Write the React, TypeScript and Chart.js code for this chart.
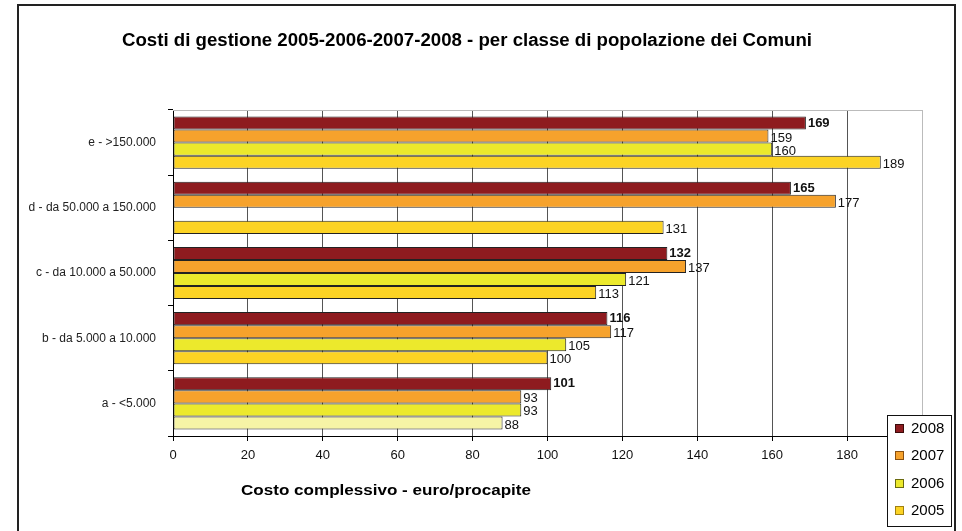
import React, { useEffect, useRef } from "react";
import { Chart, registerables } from "chart.js";

Chart.register(...registerables);

const categories = ["e - >150.000", "d - da 50.000 a 150.000", "c - da 10.000 a 50.000", "b - da 5.000 a 10.000", "a - <5.000"];
const years = ["2008", "2007", "2006", "2005"];
const values2008 = [169, 165, 132, 116, 101];
const values2007 = [159, 177, 137, 117, 93];
const values2006: (number | null)[] = [160, null, 121, 105, 93];
const values2005 = [189, 131, 113, 100, 88];
const xTicks = [0, 20, 40, 60, 80, 100, 120, 140, 160, 180, 200];

const titleText = "Costi di gestione 2005-2006-2007-2008 - per classe di popolazione dei Comuni";
const xTitleText = "Costo complessivo - euro/procapite";

const C2008 = "#8e1b1f";
const C2007 = "#f6a22c";
const C2006 = "#ece92c";
const C2005 = "#fcd324";
const C2005pale = "#f6f4a6";
const seriesColors = [C2008, C2007, C2006, C2005];
const legendBorders = ["#3a0a0a", "#8a5010", "#6a6a10", "#a08010"];

const FONT = '"Liberation Sans", Arial, sans-serif';

export default function App() {
  const ref = useRef<HTMLCanvasElement | null>(null);

  useEffect(() => {
    const canvas = ref.current;
    if (!canvas) return;

    const framePlugin = {
      id: "frame",
      beforeDraw(chart: any) {
        const ctx = chart.ctx;
        ctx.save();
        ctx.fillStyle = "#fff";
        ctx.fillRect(0, 0, chart.width, chart.height);
        ctx.strokeStyle = "#222";
        ctx.lineWidth = 2;
        ctx.beginPath();
        ctx.moveTo(18, 531);
        ctx.lineTo(18, 5);
        ctx.lineTo(955, 5);
        ctx.lineTo(955, 531);
        ctx.stroke();
        // title
        ctx.fillStyle = "#000";
        ctx.font = "bold 18px " + FONT;
        ctx.textBaseline = "middle";
        ctx.textAlign = "left";
        const w = ctx.measureText(titleText).width;
        ctx.translate(122, 41);
        ctx.scale(690 / w, 1);
        ctx.fillText(titleText, 0, 0);
        ctx.restore();

        ctx.save();
        ctx.fillStyle = "#000";
        ctx.font = "bold 15px " + FONT;
        ctx.textBaseline = "middle";
        const w2 = ctx.measureText(xTitleText).width;
        ctx.translate(241, 491);
        ctx.scale(290 / w2, 1);
        ctx.fillText(xTitleText, 0, 0);
        ctx.restore();
      },
      beforeDatasetsDraw(chart: any) {
        const ctx = chart.ctx;
        const a = chart.chartArea;
        ctx.save();
        ctx.strokeStyle = "#bbb";
        ctx.lineWidth = 1;
        ctx.beginPath();
        ctx.moveTo(a.left, a.top + 0.5);
        ctx.lineTo(a.right + 0.5, a.top + 0.5);
        ctx.lineTo(a.right + 0.5, a.bottom);
        ctx.stroke();
        ctx.restore();
      },
      afterDatasetsDraw(chart: any) {
        const ctx = chart.ctx;
        ctx.save();
        ctx.textBaseline = "middle";
        ctx.textAlign = "left";
        ctx.fillStyle = "#111";
        chart.data.datasets.forEach((ds: any, di: number) => {
          const meta = chart.getDatasetMeta(di);
          ctx.font = (di === 0 ? "bold 13px " : "13px ") + FONT;
          meta.data.forEach((el: any, i: number) => {
            const v = ds.data[i];
            if (v === null || v === undefined) return;
            ctx.fillText(String(v), el.x + 2, el.y + (di === 0 ? 0 : 2));
          });
        });
        ctx.restore();
      },
      afterDraw(chart: any) {
        const ctx = chart.ctx;
        ctx.save();
        ctx.fillStyle = "#fff";
        ctx.fillRect(887, 415, 65, 112);
        ctx.strokeStyle = "#111";
        ctx.lineWidth = 1;
        ctx.strokeRect(887.5, 415.5, 64, 111);
        const rows = [428, 455, 483, 510];
        ctx.font = "15px " + FONT;
        ctx.textBaseline = "middle";
        years.forEach((y, i) => {
          ctx.fillStyle = seriesColors[i];
          ctx.fillRect(895, rows[i] - 4, 9, 9);
          ctx.strokeStyle = legendBorders[i];
          ctx.strokeRect(895.5, rows[i] - 3.5, 8, 8);
          ctx.fillStyle = "#000";
          ctx.fillText(y, 911, rows[i] + 1);
        });
        ctx.restore();
      },
    };

    const chart = new Chart(canvas, {
      type: "bar",
      data: {
        labels: categories,
        datasets: [
          { label: years[0], data: values2008, backgroundColor: C2008 },
          { label: years[1], data: values2007, backgroundColor: C2007 },
          { label: years[2], data: values2006, backgroundColor: C2006 },
          { label: years[3], data: values2005, backgroundColor: [C2005, C2005, C2005, C2005, C2005pale] },
        ].map((d) => ({
          ...d,
          borderColor: "#222",
          borderWidth: 1,
          borderSkipped: false,
          barPercentage: 1,
          categoryPercentage: 0.8,
        })) as any,
      },
      options: {
        indexAxis: "y",
        responsive: false,
        animation: false,
        devicePixelRatio: 1,
        layout: { padding: { top: 110, right: 40, left: 0, bottom: 0 } },
        plugins: { legend: { display: false }, title: { display: false }, tooltip: { enabled: false } },
        scales: {
          x: {
            min: 0,
            max: 200,
            afterBuildTicks: (scale: any) => {
              scale.ticks = xTicks.map((v) => ({ value: v }));
            },
            afterFit: (scale: any) => {
              scale.height = 95;
            },
            ticks: {
              stepSize: 20,
              color: "#111",
              font: { size: 13, family: FONT },
              padding: 7,
              callback: (v: any) => (v === 200 ? "" : String(v)),
            },
            grid: {
              color: (c: any) => (c.tick && c.tick.value === 200 ? "#bbb" : c.tick && c.tick.value === 0 ? "#000" : "#555"),
              tickColor: "#000",
              tickLength: 5,
              lineWidth: 1,
            },
            border: { color: "#000", width: 1 },
          },
          y: {
            afterFit: (scale: any) => {
              scale.width = 173;
            },
            ticks: {
              color: "#222",
              font: { size: 12, family: FONT },
              padding: 12,
            },
            grid: {
              drawOnChartArea: false,
              tickColor: "#000",
              tickLength: 5,
              offset: true,
            },
            border: { color: "#000", width: 1 },
          },
        },
      },
      plugins: [framePlugin as any],
    });

    return () => chart.destroy();
  }, []);

  return (
    <canvas
      ref={ref}
      width={962}
      height={531}
      style={{ position: "fixed", left: 0, top: 0, width: 962, height: 531 }}
    />
  );
}
